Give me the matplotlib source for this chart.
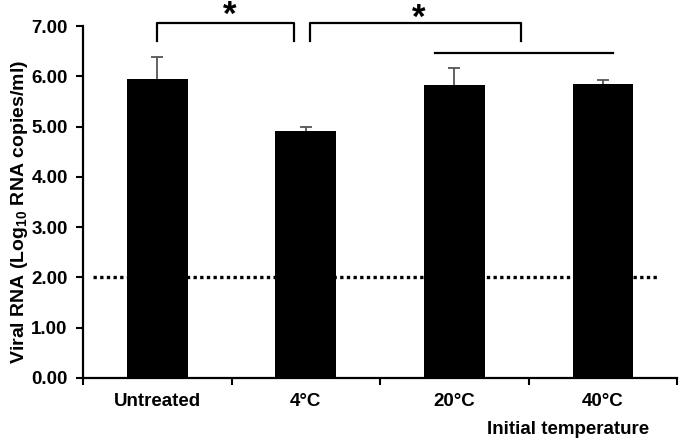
import numpy as np
import matplotlib
matplotlib.use("Agg")
import matplotlib.pyplot as plt

plt.rcParams["font.family"] = ["Liberation Sans", "DejaVu Sans"]
plt.rcParams["font.weight"] = "bold"
plt.rcParams["mathtext.fontset"] = "custom"
plt.rcParams["mathtext.rm"] = "Liberation Sans:bold"
plt.rcParams["mathtext.bf"] = "Liberation Sans:bold"

# Data
groups = ["Untreated", "4°C", "20°C", "40°C"]
means = [5.95, 4.91, 5.83, 5.85]
errors = [0.43, 0.09, 0.33, 0.07]
detection_limit = 2.0

x = np.arange(len(groups))
tops = np.array(means) + np.array(errors)

fig = plt.figure(figsize=(6.8, 4.43), dpi=100)
ax = fig.add_axes([0.122, 0.147, 0.874, 0.794])

ax.axhline(detection_limit, xmin=0.017, xmax=0.968, color="black",
           linestyle=(0, (1, 1)), lw=2.4, zorder=1)
ax.bar(x, means, width=0.41, color="black", zorder=2)
# upper-only error bars
ax.vlines(x, means, tops, color="#555555", lw=1.3, zorder=3)
ax.plot(x, tops, ls="none", marker="_", ms=8, mew=1.3, color="#555555", zorder=3)

ax.set_xlim(-0.5, 3.5)
ax.set_ylim(0, 7)
ax.set_yticks(np.arange(0, 7.01, 1))
ax.set_yticklabels([f"{v:.2f}" for v in np.arange(0, 7.01, 1)], fontsize=13.5)
ax.set_xticks(np.arange(-0.5, 3.6, 1))
ax.set_xticklabels([])
ax.set_xticks(x, minor=True)
ax.set_xticklabels(groups, minor=True, fontsize=13.5)
ax.tick_params(axis="x", which="minor", length=0, pad=11)
ax.tick_params(axis="x", which="major", direction="out", length=5, width=1.5)
ax.tick_params(axis="y", direction="out", length=5, width=1.5, pad=6)
for side in ["top", "right"]:
    ax.spines[side].set_visible(False)
for side in ["left", "bottom"]:
    ax.spines[side].set_linewidth(1.6)

# significance brackets
kw = dict(color="black", lw=1.6, clip_on=False)
ax.plot([0.0, 0.0, 0.92, 0.92], [6.70, 7.06, 7.06, 6.70], **kw)
ax.plot([1.03, 1.03, 2.45, 2.45], [6.70, 7.06, 7.06, 6.70], **kw)
ax.plot([1.87, 3.07], [6.46, 6.46], **kw)
ax.text(0.49, 7.22, "*", ha="center", va="center", fontsize=25, clip_on=False)
ax.text(1.76, 7.16, "*", ha="center", va="center", fontsize=25, clip_on=False)

fig.text(0.028, 1 - 212 / 443, r"Viral RNA (Log$_{\mathbf{10}}$ RNA copies/ml)",
         rotation=90, ha="center", va="center", fontsize=14)
fig.text(0.835, 1 - 430 / 443, "Initial temperature", ha="center", va="center",
         fontsize=13.5)

fig.savefig("out.png", dpi=100)
